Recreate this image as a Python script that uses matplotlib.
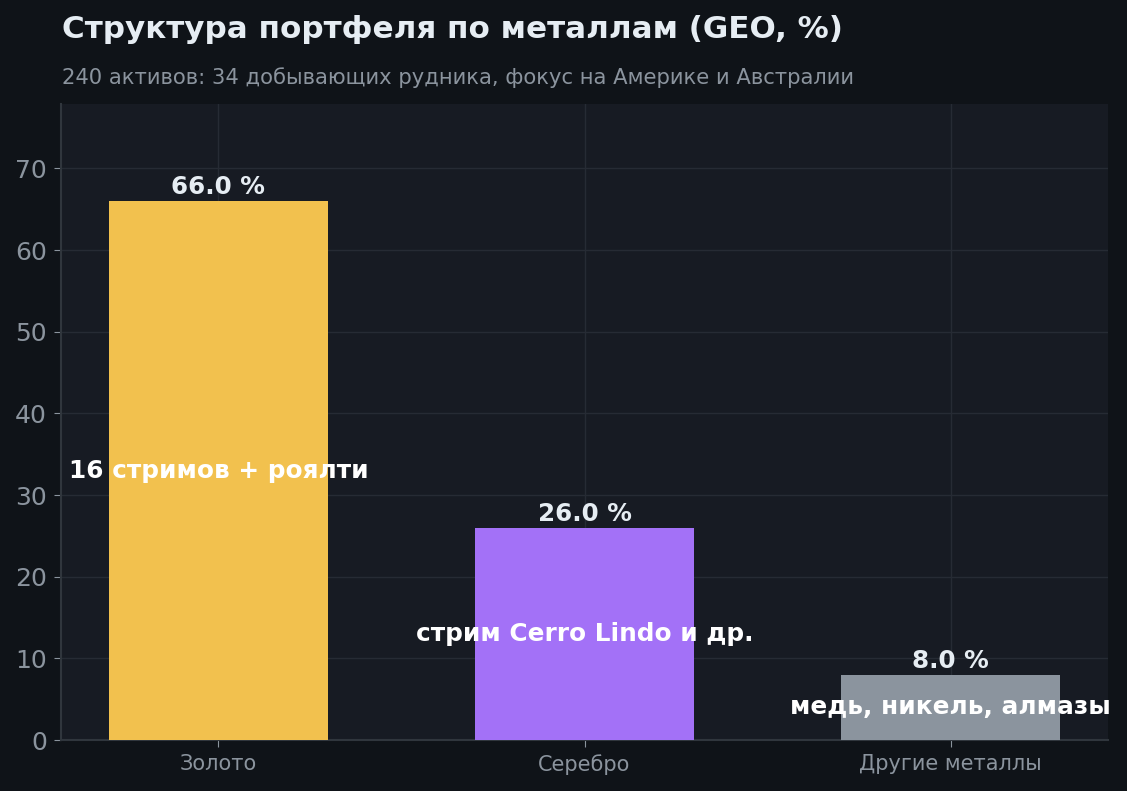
import matplotlib
matplotlib.use("Agg")
import matplotlib.pyplot as plt

categories = ["Золото", "Серебро", "Другие металлы"]
values = [66.0, 26.0, 8.0]
inner_labels = ["16 стримов + роялти", "стрим Cerro Lindo и др.", "медь, никель, алмазы"]
bar_colors = ["#f2c14e", "#a371f7", "#8b949e"]

title = "Структура портфеля по металлам (GEO, %)"
subtitle = "240 активов: 34 добывающих рудника, фокус на Америке и Австралии"

plt.rcParams['font.family'] = ['DejaVu Sans']

fig = plt.figure(figsize=(11.27, 7.91), dpi=100, facecolor="#0f1318")
ax = fig.add_axes([61/1127, 1 - 740/791, (1108-61)/1127, (740-104)/791])
ax.set_facecolor("#171b23")

x = list(range(len(categories)))
bars = ax.bar(x, values, width=0.6, color=bar_colors, zorder=3)

ax.set_ylim(0, max(values) * 1.18)
ax.set_xticks(x)
ax.set_xticklabels(categories, fontsize=15, color="#8b949e")
ax.tick_params(axis="y", labelsize=18, colors="#8b949e", length=5, pad=5)
ax.tick_params(axis="x", colors="#8b949e", length=5, pad=5)

ax.grid(True, color="#262b34", linewidth=1, zorder=0)
ax.set_axisbelow(True)
for s in ["top", "right"]:
    ax.spines[s].set_visible(False)
for s in ["left", "bottom"]:
    ax.spines[s].set_color("#30363d")
    ax.spines[s].set_linewidth(1.5)

for xi, v, lab in zip(x, values, inner_labels):
    ax.text(xi, v + 0.2, f"{v:.1f} %", ha="center", va="bottom",
            fontsize=17.7, fontweight="bold", color="#e6edf3", zorder=5)
    ax.text(xi, v / 2, lab, ha="center", va="center",
            fontsize=17.8, fontweight="bold", color="white", zorder=5)

fig.text(62/1127, 1 - 29/791, title, ha="left", va="center",
         fontsize=22.3, fontweight="bold", color="#e6edf3")
fig.text(62/1127, 1 - 78/791, subtitle, ha="left", va="center",
         fontsize=15.2, color="#8b949e")

fig.savefig("out.png", dpi=100, facecolor=fig.get_facecolor())
